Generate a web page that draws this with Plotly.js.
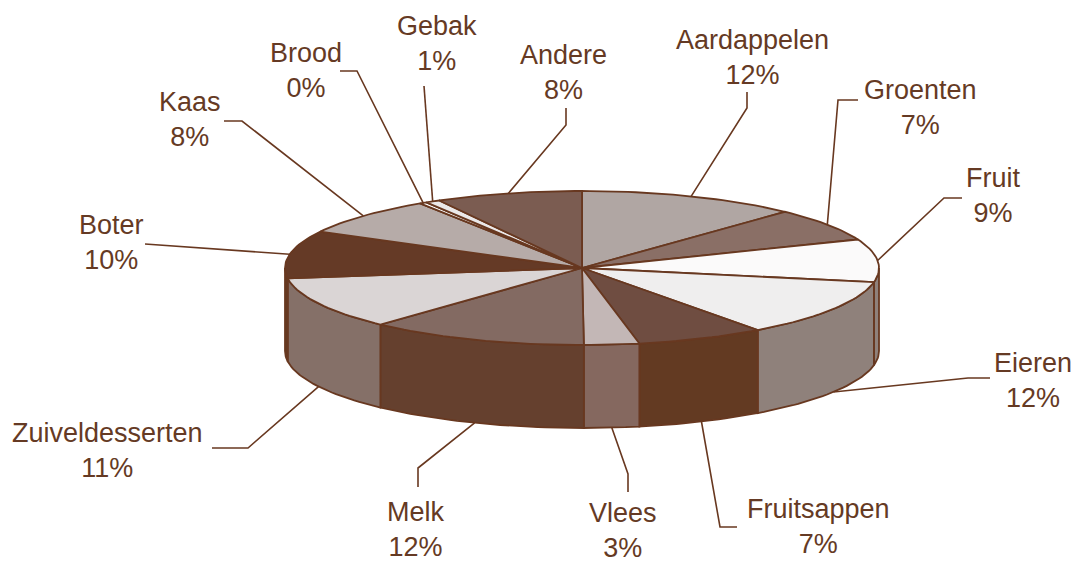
<!DOCTYPE html>
<html>
<head>
<meta charset="utf-8">
<script src="https://cdn.plot.ly/plotly-3.0.1.min.js"></script>
<style>html,body{margin:0;padding:0;background:#fff;}#chart{width:1085px;height:563px;}</style>
</head>
<body>
<div id="chart"></div>
<script>
// ---- data ----
const categories = ['Aardappelen','Groenten','Fruit','Eieren','Fruitsappen','Vlees','Melk','Zuiveldesserten','Boter','Kaas','Brood','Gebak','Andere'];
const shares = [12, 7, 9, 12, 7, 3, 12, 11, 10, 8, 0.4, 0.8, 8];

// ---- styles ----
const topColors = ['#b0a6a3','#8a6f66','#fbfafa','#efeeee','#6f4d41','#c3b7b6','#836a62','#dad5d5','#653a26','#b6aba8','#ffffff','#ebe8e8','#7b5c51'];
const sideColors = ['#8f817b','#6f4d41','#8f817b','#8f817b','#633a22','#85685f','#65402e','#857068','#633a22','#8f817b','#8f817b','#8f817b','#6f4d41'];
const edgeColor = '#683820';
const textColor = '#653a24';

// ---- pie geometry (layout) ----
const geo = {cx: 582, cy: 268, rx: 297, ry: 77, depth: 83};

// label block centres and leader elbows (layout positions)
const labelPos = [[752,57],[920,107],[993,195],[1033,380],[818,526],[623,530],[416,529],[107,450],[111,242],[190,119],[306,70],[437,43],[563,72]];
const leaderElbows = [
  [[747,92],[747,108]],
  [[858,100],[838,100]],
  [[962,198],[944,198]],
  [[990,378],[968,378]],
  [[737,527],[720,527]],
  [[628,492],[628,474]],
  [[418,487],[418,468]],
  [[212,448],[248,448]],
  [[145,244]],
  [[224,121],[242,121]],
  [[340,71],[357,71]],
  [[424,86]],
  [[566,108],[566,125]]
];

function pt(theta, dy) {
  const r = theta * Math.PI / 180;
  return [geo.cx + geo.rx * Math.sin(r), geo.cy - geo.ry * Math.cos(r) + (dy || 0)];
}
function arc(a0, a1, dy) {
  const n = Math.max(2, Math.ceil(Math.abs(a1 - a0) / 1.5));
  const out = [];
  for (let i = 0; i <= n; i++) out.push(pt(a0 + (a1 - a0) * i / n, dy));
  return out;
}

const total = shares.reduce((a, b) => a + b, 0);
const starts = [], ends = [];
let acc = 0;
shares.forEach(v => { starts.push(acc / total * 360); acc += v; ends.push(acc / total * 360); });

const traces = [];
// side walls (front half, 90..270 deg)
shares.forEach((v, i) => {
  const b0 = Math.max(starts[i], 90), b1 = Math.min(ends[i], 270);
  if (b1 <= b0) return;
  const topArc = arc(b0, b1, 0);
  const botArc = arc(b1, b0, geo.depth);
  const pts = topArc.concat(botArc);
  pts.push(topArc[0]);
  traces.push({
    type: 'scatter', mode: 'lines', x: pts.map(p => p[0]), y: pts.map(p => p[1]),
    fill: 'toself', fillcolor: sideColors[i], line: {color: edgeColor, width: 1.8},
    hoverinfo: 'skip', showlegend: false
  });
});
// top faces
shares.forEach((v, i) => {
  const pts = [[geo.cx, geo.cy]].concat(arc(starts[i], ends[i], 0));
  pts.push([geo.cx, geo.cy]);
  traces.push({
    type: 'scatter', mode: 'lines', x: pts.map(p => p[0]), y: pts.map(p => p[1]),
    fill: 'toself', fillcolor: topColors[i], line: {color: edgeColor, width: 1.8},
    hoverinfo: 'skip', showlegend: false, name: categories[i]
  });
});
// leader lines
const lx = [], ly = [];
shares.forEach((v, i) => {
  const mid = (starts[i] + ends[i]) / 2;
  const front = mid > 100 && mid < 260;
  const s = pt(mid, front ? geo.depth : 0);
  leaderElbows[i].forEach(p => { lx.push(p[0]); ly.push(p[1]); });
  lx.push(s[0]); ly.push(s[1]);
  lx.push(null); ly.push(null);
});
traces.push({type: 'scatter', mode: 'lines', x: lx, y: ly, line: {color: edgeColor, width: 1.6}, hoverinfo: 'skip', showlegend: false});

const annotations = categories.map((c, i) => ({
  x: labelPos[i][0], y: labelPos[i][1], xref: 'x', yref: 'y',
  text: c + '<br>' + Math.round(shares[i] / total * 100) + '%',
  showarrow: false, xanchor: 'center', yanchor: 'middle', align: 'center',
  font: {family: 'Liberation Sans, Arial, sans-serif', size: 27, color: textColor}
}));

const layout = {
  width: 1085, height: 563,
  margin: {l: 0, r: 0, t: 0, b: 0},
  paper_bgcolor: '#ffffff', plot_bgcolor: '#ffffff',
  xaxis: {range: [0, 1085], visible: false, fixedrange: true},
  yaxis: {range: [563, 0], visible: false, fixedrange: true},
  showlegend: false,
  annotations: annotations
};
Plotly.newPlot('chart', traces, layout, {displayModeBar: false, staticPlot: true});
</script>
</body>
</html>
